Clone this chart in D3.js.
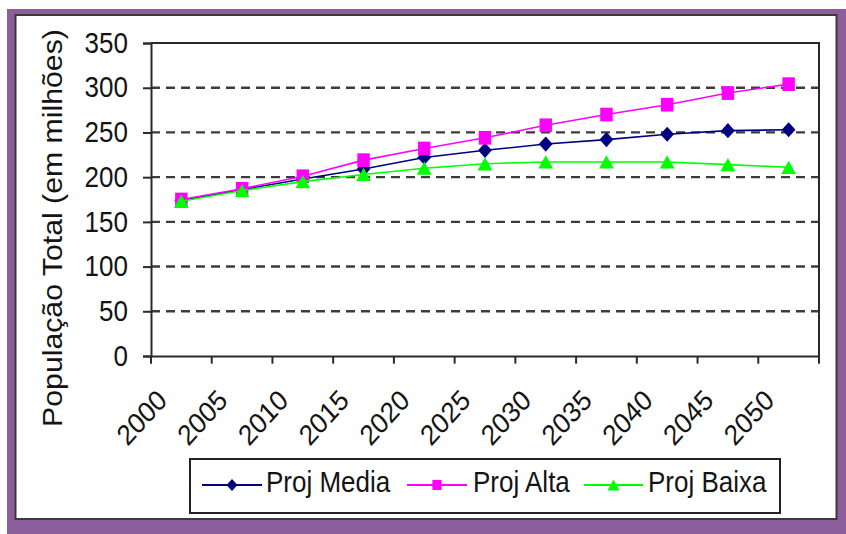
<!DOCTYPE html>
<html>
<head>
<meta charset="utf-8">
<script src="https://cdn.jsdelivr.net/npm/d3@7"></script>
<style>
  html, body { margin: 0; padding: 0; background: #fff; }
  svg { display: block; }
  text { font-family: "Liberation Sans", Arial, Helvetica, sans-serif; fill: #141414; }
</style>
</head>
<body>
<svg id="chart" width="846" height="534"></svg>
<script>
// Projected total population of Brazil (millions), three scenarios
const years = ["2000", "2005", "2010", "2015", "2020", "2025", "2030", "2035", "2040", "2045", "2050"];
const projMedia = [174, 186, 198, 209, 222, 230, 237, 242, 248, 252, 253];
const projAlta  = [175, 187, 201, 219, 232, 244, 258, 270, 281, 294, 304];
const projBaixa = [173, 185, 195, 203, 210, 215, 217, 217, 217, 214, 211];
const yTicks = [0, 50, 100, 150, 200, 250, 300, 350];
const seriesNames = ["Proj Media", "Proj Alta", "Proj Baixa"];
const yTitle = "População Total (em milhões)";

const svg = d3.select("#chart");

// Outer purple frame with white panel
svg.append("rect").attr("x", 7).attr("y", 9).attr("width", 839).attr("height", 525)
  .attr("fill", "#8c5e9c");
svg.append("rect").attr("x", 15.5).attr("y", 15).attr("width", 821).attr("height", 504)
  .attr("fill", "#fff").attr("stroke", "#3a3a3a").attr("stroke-width", 2);

// Chart content is drawn slightly taller than wide
const SY = 1.1;
const g = svg.append("g").attr("transform", `scale(1,${SY})`);

const plot = { left: 151, right: 819, top: 39.1, bottom: 323.6 };
const x = d3.scaleBand().domain(years).range([plot.left, plot.right]);
const y = d3.scaleLinear().domain([0, 350]).range([plot.bottom, plot.top]);

// Dashed gridlines
g.append("g").selectAll("line")
  .data(yTicks.filter(v => v > 0 && v < 350))
  .join("line")
  .attr("x1", plot.left).attr("x2", plot.right)
  .attr("y1", d => y(d)).attr("y2", d => y(d))
  .attr("stroke", "#3c3c3c").attr("stroke-width", 2.4)
  .attr("stroke-dasharray", "9,6")
  .attr("vector-effect", "non-scaling-stroke");

// Plot border (top and right)
g.append("path")
  .attr("d", `M${plot.left},${y(350)}H${plot.right}V${plot.bottom}`)
  .attr("fill", "none").attr("stroke", "#2a2a2a").attr("stroke-width", 2)
  .attr("vector-effect", "non-scaling-stroke");

// Y axis
const yAxis = g.append("g")
  .attr("transform", `translate(${plot.left},0)`)
  .call(d3.axisLeft(y).tickValues(yTicks).tickSize(8).tickPadding(15));
yAxis.select(".domain").attr("stroke", "#2a2a2a").attr("stroke-width", 2)
  .attr("vector-effect", "non-scaling-stroke");
yAxis.selectAll(".tick line").attr("stroke", "#2a2a2a").attr("stroke-width", 2)
  .attr("vector-effect", "non-scaling-stroke");
yAxis.selectAll(".tick text").attr("font-size", 26).attr("fill", "#141414")
  .style("font-family", "'Liberation Sans', Arial, sans-serif");

// X axis: labels under band centres, ticks at band edges
const xAxis = g.append("g")
  .attr("transform", `translate(0,${plot.bottom})`)
  .call(d3.axisBottom(x).tickSize(0));
xAxis.select(".domain").attr("stroke", "#2a2a2a").attr("stroke-width", 2)
  .attr("vector-effect", "non-scaling-stroke");
xAxis.selectAll(".tick text")
  .attr("font-size", 26).attr("fill", "#141414")
  .style("font-family", "'Liberation Sans', Arial, sans-serif")
  .attr("text-anchor", "end").attr("x", 0).attr("y", 0).attr("dy", null)
  .attr("transform", `translate(-13,${365.5 - plot.bottom}) rotate(-45)`);
const edges = years.map(d => x(d)).concat([x(years[years.length - 1]) + x.bandwidth()]);
xAxis.selectAll(".edge-tick").data(edges).join("line")
  .attr("class", "edge-tick")
  .attr("x1", d => d).attr("x2", d => d)
  .attr("y1", 0).attr("y2", 7)
  .attr("stroke", "#2a2a2a").attr("stroke-width", 2)
  .attr("vector-effect", "non-scaling-stroke");

// Y axis title
g.append("text")
  .attr("transform", `translate(61.5,207.3) rotate(-90)`)
  .attr("text-anchor", "middle")
  .attr("font-size", 27.5)
  .text(yTitle);

// Marker shapes
const diamond = { draw(ctx, size) { const r = Math.sqrt(size / 2); ctx.moveTo(0, -r); ctx.lineTo(r, 0); ctx.lineTo(0, r); ctx.lineTo(-r, 0); ctx.closePath(); } };
const square = { draw(ctx, size) { const r = Math.sqrt(size) / 2; ctx.rect(-r, -r, 2 * r, 2 * r); } };
const triangle = { draw(ctx, size) { const w = Math.sqrt(size) * 1.1, h = w * 0.82; ctx.moveTo(0, -h / 2); ctx.lineTo(w / 2, h / 2); ctx.lineTo(-w / 2, h / 2); ctx.closePath(); } };

const series = [
  { name: seriesNames[0], values: projMedia, color: "#000080", shape: diamond, size: 95, lsize: 60 },
  { name: seriesNames[1], values: projAlta,  color: "#ff00ff", shape: square,  size: 155, lsize: 85 },
  { name: seriesNames[2], values: projBaixa, color: "#00ff00", shape: triangle, size: 180, lsize: 120 }
];

const line = d3.line()
  .x((d, i) => x(years[i]) + x.bandwidth() / 2)
  .y(d => y(d));

series.forEach(s => {
  const sg = g.append("g");
  sg.append("path").datum(s.values)
    .attr("d", line)
    .attr("fill", "none").attr("stroke", s.color).attr("stroke-width", 1.6)
    .attr("vector-effect", "non-scaling-stroke");
  sg.selectAll("path.mk").data(s.values).join("path")
    .attr("class", "mk")
    .attr("transform", (d, i) => `translate(${x(years[i]) + x.bandwidth() / 2},${y(d)})`)
    .attr("d", d3.symbol().type(s.shape).size(s.size)())
    .attr("fill", s.color);
});

// Legend
const legY = 440.9;
g.append("rect").attr("x", 190).attr("y", 417.3).attr("width", 590).attr("height", 49.1)
  .attr("fill", "#fff").attr("stroke", "#222").attr("stroke-width", 2)
  .attr("vector-effect", "non-scaling-stroke");
const legItems = [
  { x1: 202, x2: 262, tx: 266 },
  { x1: 407, x2: 467, tx: 473 },
  { x1: 584, x2: 643, tx: 648 }
];
series.forEach((s, i) => {
  const it = legItems[i];
  g.append("line").attr("x1", it.x1).attr("x2", it.x2).attr("y1", legY).attr("y2", legY)
    .attr("stroke", s.color).attr("stroke-width", 2.2)
    .attr("vector-effect", "non-scaling-stroke");
  g.append("path")
    .attr("transform", `translate(${(it.x1 + it.x2) / 2},${legY})`)
    .attr("d", d3.symbol().type(s.shape).size(s.lsize)())
    .attr("fill", s.color);
  g.append("text").attr("x", it.tx).attr("y", 447.3)
    .attr("font-size", 26).text(s.name);
});
</script>
</body>
</html>
